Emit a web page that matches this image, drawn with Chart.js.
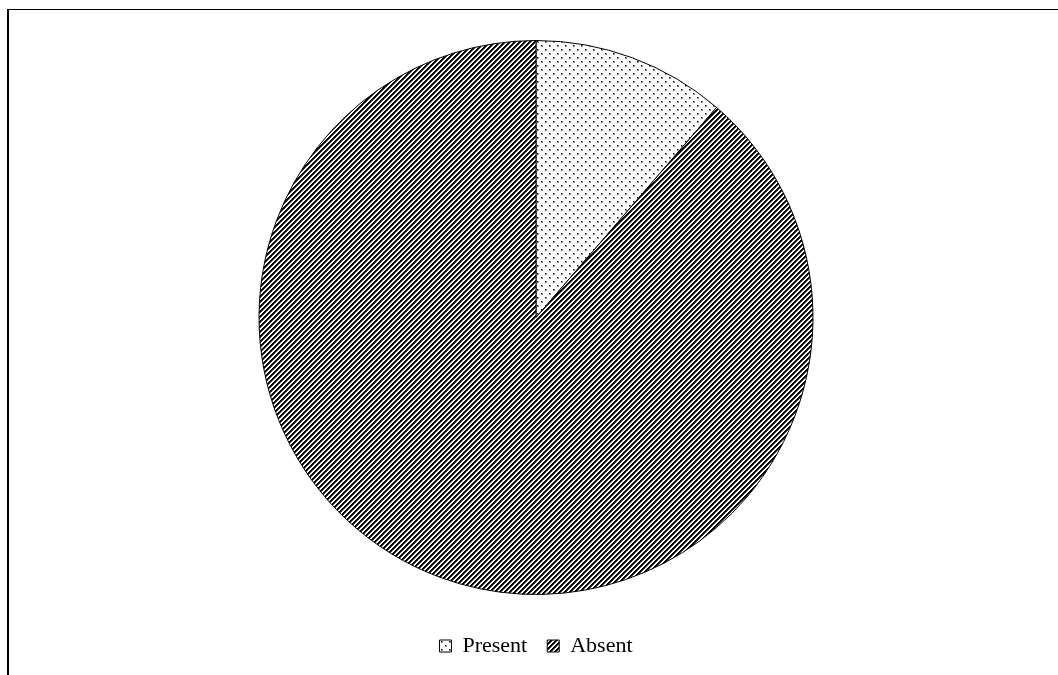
<!DOCTYPE html>
<html>
<head>
<meta charset="utf-8">
<script src="https://cdn.jsdelivr.net/npm/chart.js@4/dist/chart.umd.min.js"></script>
<style>
    html, body { margin: 0; padding: 0; background: #fff; overflow: hidden; }
    body { width: 1058px; height: 675px; position: relative; }
    /* marco del área del gráfico, cortado por la derecha y por abajo */
    .frame {
        position: absolute; left: 7px; top: 9px; width: 1200px; height: 800px;
        border-left: 2px solid #000; border-top: 1px solid #000;
    }
    #pieChart { position: absolute; left: 0; top: 0; }
</style>
</head>
<body>
<div class="frame"></div>
<canvas id="pieChart" width="1058" height="675"></canvas>
<script>
// ===== DATOS =====
const categories = ['Present', 'Absent'];
const values = [11.3, 88.7];

// ===== TRAMAS =====
// puntos dispersos al tresbolillo
function dotPattern(ctx) {
    const c = document.createElement('canvas');
    c.width = 8; c.height = 8;
    const g = c.getContext('2d');
    g.fillStyle = '#fff';
    g.fillRect(0, 0, 8, 8);
    g.fillStyle = 'rgba(0,0,0,0.45)';
    g.fillRect(1, 1, 2, 2);
    g.fillRect(5, 5, 2, 2);
    g.fillStyle = '#000';
    g.fillRect(1, 1, 1, 1);
    g.fillRect(5, 5, 1, 1);
    return ctx.createPattern(c, 'repeat');
}

// diagonales anchas hacia arriba
function stripePattern(ctx) {
    const n = 5;
    const c = document.createElement('canvas');
    c.width = n; c.height = n;
    const g = c.getContext('2d');
    g.fillStyle = '#fff';
    g.fillRect(0, 0, n, n);
    for (let y = 0; y < n; y++) {
        for (let x = 0; x < n; x++) {
            const k = (x + y) % n;
            if (k < 2) {
                g.fillStyle = '#000';
                g.fillRect(x, y, 1, 1);
            } else if (k === 2) {
                g.fillStyle = '#444';
                g.fillRect(x, y, 1, 1);
            }
        }
    }
    return ctx.createPattern(c, 'repeat');
}

const canvas = document.getElementById('pieChart');
const ctx = canvas.getContext('2d');

new Chart(ctx, {
    type: 'pie',
    data: {
        labels: categories,
        datasets: [{
            data: values,
            backgroundColor: [dotPattern(ctx), stripePattern(ctx)],
            borderColor: '#000',
            borderWidth: 1,
            radius: 277
        }]
    },
    options: {
        responsive: false,
        animation: false,
        layout: {
            padding: { top: 20, left: 14, right: 0, bottom: 8 }
        },
        plugins: {
            tooltip: { enabled: false },
            legend: {
                position: 'bottom',
                labels: {
                    boxWidth: 12,
                    boxHeight: 12,
                    padding: 20,
                    color: '#000',
                    font: { family: '"Liberation Serif", "Times New Roman", serif', size: 22 }
                }
            }
        }
    }
});
</script>
</body>
</html>
